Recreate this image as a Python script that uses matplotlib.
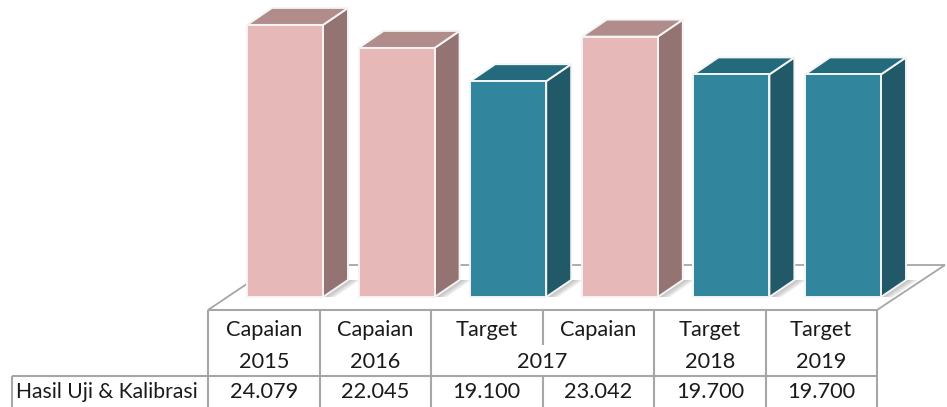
import matplotlib
matplotlib.use('Agg')
import matplotlib.pyplot as plt
from matplotlib.patches import Polygon

# ---- data ----
row_label = 'Hasil Uji & Kalibrasi'
kinds = ['Capaian', 'Capaian', 'Target', 'Capaian', 'Target', 'Target']
years = ['2015', '2016', '2017', '2017', '2018', '2019']
values = [24079, 22045, 19100, 23042, 19700, 19700]
value_labels = ['24.079', '22.045', '19.100', '23.042', '19.700', '19.700']

# ---- styling ----
FRONT = {'Capaian': '#E6B9B8', 'Target': '#31859C'}
SIDE = {'Capaian': '#937473', 'Target': '#215968'}
TOP = {'Capaian': '#B08C8A', 'Target': '#246A7D'}
GRID = '#A6A6A6'
FONT = 'Lato'
FS = 15.7

W, H = 947, 407
CAT_PX = 111.6        # pixels per category
VAL_PER_PX = 88.5     # value units per pixel
X0_PX, BASE_PX = 285, 297
BAR_W = 76 / CAT_PX
DDX, DDY = 25 / CAT_PX, 17 * VAL_PER_PX

fig = plt.figure(figsize=(W / 100, H / 100), dpi=100)

# pixel-space axes for floor + table
tab = fig.add_axes([0, 0, 1, 1], zorder=0)
tab.set_xlim(0, W)
tab.set_ylim(H, 0)
tab.axis('off')

# data axes for the bars
ax = fig.add_axes([0, 0, 1, 1], zorder=1)
ax.set_xlim(-X0_PX / CAT_PX, (W - X0_PX) / CAT_PX)
ax.set_ylim(-(H - BASE_PX) * VAL_PER_PX, BASE_PX * VAL_PER_PX)
ax.patch.set_alpha(0)
ax.axis('off')

# ---- floor ----
tab.add_patch(Polygon([(208, 310), (877, 310), (945, 265), (275, 265)],
                      closed=True, facecolor='white', edgecolor=GRID, lw=1.3))

# ---- bars ----
xs = list(range(len(values)))
for x, v, k in zip(xs, values, kinds):
    xr = x + BAR_W / 2
    xl = x - BAR_W / 2
    # soft shadow on the floor, fading away from the side face
    for i in range(6):
        off = 0.018 * (i + 1)
        ax.add_patch(Polygon([(xr, 0), (xr + DDX, DDY), (xr + DDX + off, DDY),
                              (xr + off, 0)],
                             closed=True, facecolor='#8C8C8C', edgecolor='none',
                             alpha=0.12, zorder=1))
    ax.bar(x, v, width=BAR_W, color=FRONT[k], edgecolor='#F4F4F4', lw=1.4, zorder=3)
    ax.add_patch(Polygon([(xr, 0), (xr + DDX, DDY), (xr + DDX, v + DDY), (xr, v)],
                         closed=True, facecolor=SIDE[k], edgecolor='#F4F4F4', lw=1.4, zorder=2))
    ax.add_patch(Polygon([(xl, v), (xr, v), (xr + DDX, v + DDY), (xl + DDX, v + DDY)],
                         closed=True, facecolor=TOP[k], edgecolor='#F4F4F4', lw=1.4, zorder=2))

# ---- table ----
col_edges = [208 + 111.5 * i for i in range(7)]
lk = dict(color=GRID, lw=1.5, solid_capstyle='butt')
tab.plot([208, 877], [310, 310], **lk)
tab.plot([12, 877], [376, 376], **lk)
tab.plot([12, 12], [376, H], **lk)
for i, xe in enumerate(col_edges):
    if i == 3:
        tab.plot([xe, xe], [310, 345], **lk)
        tab.plot([xe, xe], [376, H], **lk)
    else:
        tab.plot([xe, xe], [310, H], **lk)

txt = dict(fontsize=FS, family=FONT, ha='center', va='center', color='#1A1A1A')
for i in range(len(values)):
    cx = (col_edges[i] + col_edges[i + 1]) / 2
    tab.text(cx, 330, kinds[i], **txt)
    tab.text(cx, 392, value_labels[i], **txt)
# year labels, merged where consecutive years repeat
i = 0
while i < len(years):
    j = i
    while j + 1 < len(years) and years[j + 1] == years[i]:
        j += 1
    cx = (col_edges[i] + col_edges[j + 1]) / 2
    tab.text(cx, 362, years[i], **txt)
    i = j + 1
tab.text(16, 392, row_label, fontsize=15.2, family=FONT, ha='left', va='center', color='#1A1A1A')

fig.savefig('out.png', dpi=100)
